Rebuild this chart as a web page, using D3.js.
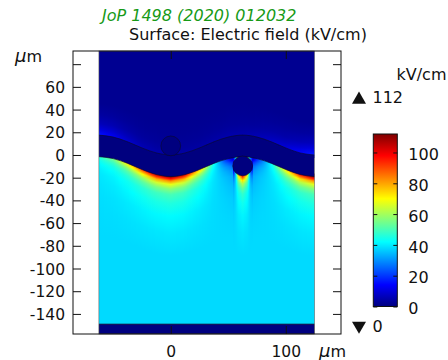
<!DOCTYPE html>
<html>
<head>
<meta charset="utf-8">
<script src="https://cdn.jsdelivr.net/npm/d3@7"></script>
<style>
  body { margin: 0; background: #fff; }
  text { font-family: "DejaVu Sans", sans-serif; fill: #111; }
</style>
</head>
<body>
<svg id="chart" width="448" height="360"></svg>
<script>
// colour range and ticks
const fieldMin = 0, fieldMax = 112;
const xTicks = [0, 100];
const yTicks = [-140, -120, -100, -80, -60, -40, -20, 0, 20, 40, 60, 80];
const cbTicks = [0, 20, 40, 60, 80, 100];
const jetColors = ["#00007f", "#0000ff", "#007fff", "#00ffff", "#7fff7f", "#ffff00", "#ff7f00", "#ff0000", "#7f0000"];

// geometry in um
const cellX = [-62.5, 125];
const baseY = -149;
const waveX = [-62.5, -50, -37.5, -25, -12.5, 0, 12.5, 25, 37.5, 50, 62.5, 75, 87.5, 100, 112.5, 125];
const bandTop = [17.5, 15.8, 11.6, 6.2, 1.8, 0, 1.8, 6.2, 11.6, 15.8, 17.5, 15.8, 11.6, 6.2, 1.8, 0];
const bandThick = 19;
const circleX = [0, 62.5];
const circleY = [8, -9.6];
const circleR = [8.7, 8.7];

// field values in kV/cm
const airField = 2, bulkField = 38, solidField = 0;
const lowEdgeX = [-62.5, -50, -40, -28, -17, -5, 0, 10, 16.5, 28, 36.5, 45, 51, 54, 56, 58.5, 62.5, 66.5, 69, 71.6, 77, 89, 100, 112, 125];
const lowEdgeE = [46, 55, 68, 86, 102, 110, 112, 106, 94, 70, 46, 26, 12, 6, 30, 72, 98, 72, 30, 7, 22, 46, 72, 96, 112];
const topEdgeX = [-62.5, -50, -37.5, -25, 0, 25, 50, 62.5, 75, 100, 112.5, 125];
const topEdgeE = [16, 13, 9, 6, 4, 4, 5, 5, 6, 10, 14, 17];
// how the excess field fades with distance from the boundary (um)
const lowDepth = [0, 2, 4, 7, 11, 16, 24, 35, 50, 70];
const lowFrac = [1, 0.8, 0.6, 0.4, 0.26, 0.16, 0.1, 0.05, 0.02, 0];
const topDepth = [0, 5, 10, 18, 28];
const topFrac = [1, 0.6, 0.32, 0.12, 0];

const svg = d3.select("#chart");

const x = d3.scaleLinear().domain([-85, 148]).range([73, 341]);
const y = d3.scaleLinear().domain([-157.7, 91.6]).range([334, 51]);
const color = d3.scaleLinear()
  .domain(jetColors.map((c, i) => fieldMin + i * (fieldMax - fieldMin) / (jetColors.length - 1)))
  .range(jetColors)
  .clamp(true);

const topAt = d3.scaleLinear().domain(waveX).range(bandTop);
const lowEdge = d3.scaleLinear().domain(lowEdgeX).range(lowEdgeE).clamp(true);
const topEdge = d3.scaleLinear().domain(topEdgeX).range(topEdgeE).clamp(true);
const pxPerUm = y(0) - y(1);

const defs = svg.append("defs");
defs.append("clipPath").attr("id", "fieldClip")
  .append("rect")
  .attr("x", x(cellX[0])).attr("y", y.range()[1])
  .attr("width", x(cellX[1]) - x(cellX[0]))
  .attr("height", y.range()[0] - y.range()[1]);

// one column per pixel
const px0 = Math.round(x(cellX[0])), px1 = Math.round(x(cellX[1]));
const cols = d3.range(px0, px1).map((px, i) => {
  const xm = x.invert(px + 0.5);
  const t = topAt(xm);
  const bot = t - bandThick;
  let low = bot;
  circleX.forEach((cx, k) => {
    const dx = xm - cx, r = circleR[k];
    if (Math.abs(dx) < r) low = Math.min(low, circleY[k] - Math.sqrt(r * r - dx * dx));
  });
  return { i, px, yTop: y(t), yBot: y(bot), yLow: y(low), eTop: topEdge(xm), eLow: lowEdge(xm) };
});

const lowMax = lowDepth[lowDepth.length - 1], topMax = topDepth[topDepth.length - 1];

defs.selectAll(".lg").data(cols).join("linearGradient")
  .attr("class", "lg")
  .attr("id", d => "lg" + d.i)
  .attr("gradientUnits", "userSpaceOnUse")
  .attr("x1", 0).attr("x2", 0)
  .attr("y1", d => d.yLow).attr("y2", d => d.yLow + lowMax * pxPerUm)
  .selectAll("stop")
  .data(d => lowDepth.map((dep, k) => ({ off: dep / lowMax, v: bulkField + (d.eLow - bulkField) * lowFrac[k] })))
  .join("stop")
  .attr("offset", s => s.off)
  .attr("stop-color", s => color(s.v));

defs.selectAll(".ug").data(cols).join("linearGradient")
  .attr("class", "ug")
  .attr("id", d => "ug" + d.i)
  .attr("gradientUnits", "userSpaceOnUse")
  .attr("x1", 0).attr("x2", 0)
  .attr("y1", d => d.yTop).attr("y2", d => d.yTop - topMax * pxPerUm)
  .selectAll("stop")
  .data(d => topDepth.map((dep, k) => ({ off: dep / topMax, v: airField + (d.eTop - airField) * topFrac[k] })))
  .join("stop")
  .attr("offset", s => s.off)
  .attr("stop-color", s => color(s.v));

const field = svg.append("g").attr("clip-path", "url(#fieldClip)");

// air above
field.selectAll(".ucol").data(cols).join("rect")
  .attr("x", d => d.px).attr("width", 1)
  .attr("y", y.range()[1])
  .attr("height", d => d.yTop + 3 - y.range()[1])
  .attr("fill", d => `url(#ug${d.i})`);

// region below the layer
field.selectAll(".lcol").data(cols).join("rect")
  .attr("x", d => d.px).attr("width", 1)
  .attr("y", d => d.yBot - 3)
  .attr("height", d => y(baseY) - d.yBot + 3)
  .attr("fill", d => `url(#lg${d.i})`);

// wavy layer
const wave = waveX.map((xv, i) => ({ x: xv, top: bandTop[i] }));
field.append("path")
  .datum(wave)
  .attr("fill", color(solidField))
  .attr("d", d3.area().x(d => x(d.x)).y0(d => y(d.top - bandThick)).y1(d => y(d.top)).curve(d3.curveMonotoneX));
[0, bandThick].forEach(off => {
  field.append("path")
    .datum(wave)
    .attr("fill", "none")
    .attr("stroke", "#0a0a30")
    .attr("stroke-opacity", 0.8)
    .attr("stroke-width", 0.8)
    .attr("d", d3.line().x(d => x(d.x)).y(d => y(d.top - off)).curve(d3.curveMonotoneX));
});

// particles
field.selectAll(".circ").data(circleX).join("circle")
  .attr("cx", d => x(d))
  .attr("cy", (d, i) => y(circleY[i]))
  .attr("r", (d, i) => circleR[i] * pxPerUm)
  .attr("fill", color(solidField))
  .attr("stroke", "#0a0a30")
  .attr("stroke-opacity", 0.8)
  .attr("stroke-width", 0.8);

// bottom electrode strip
field.append("rect")
  .attr("x", x(cellX[0])).attr("width", x(cellX[1]) - x(cellX[0]))
  .attr("y", y(baseY)).attr("height", y.range()[0] - y(baseY))
  .attr("fill", color(solidField))
  .attr("stroke", "#0a0a30").attr("stroke-width", 0.8);

svg.append("rect")
  .attr("x", x(cellX[0])).attr("width", x(cellX[1]) - x(cellX[0]))
  .attr("y", y.range()[1]).attr("height", y.range()[0] - y.range()[1])
  .attr("fill", "none").attr("stroke", "#666").attr("stroke-width", 0.6);

// axes
function styleAxis(g) {
  g.select(".domain").remove();
  g.attr("font-family", "DejaVu Sans").attr("font-size", 15.5);
  g.selectAll("line").attr("stroke", "#111");
  g.selectAll("text").attr("fill", "#111");
}
svg.append("g").attr("transform", `translate(${x.range()[0]},0)`)
  .call(d3.axisLeft(y).tickValues(yTicks).tickSize(-8).tickPadding(8).tickFormat(d => d === 80 ? "" : String(d)))
  .call(styleAxis)
  .selectAll("text").attr("dy", "0.36em");
svg.append("g").attr("transform", `translate(${x.range()[1]},0)`)
  .call(d3.axisRight(y).tickValues(yTicks).tickSize(-8).tickFormat(""))
  .call(styleAxis);
svg.append("g").attr("transform", `translate(0,${y.range()[0]})`)
  .call(d3.axisBottom(x).tickValues(xTicks).tickSize(-8).tickPadding(12).tickFormat(String))
  .call(styleAxis);
svg.append("g").attr("transform", `translate(0,${y.range()[1]})`)
  .call(d3.axisTop(x).tickValues(xTicks).tickSize(-8).tickFormat(""))
  .call(styleAxis);

svg.append("rect")
  .attr("x", x.range()[0]).attr("y", y.range()[1])
  .attr("width", x.range()[1] - x.range()[0]).attr("height", y.range()[0] - y.range()[1])
  .attr("fill", "none").attr("stroke", "#111").attr("stroke-width", 1);

// unit labels
const um1 = svg.append("text").attr("x", 15).attr("y", 62).attr("font-size", 16);
um1.append("tspan").attr("font-style", "italic").attr("font-size", 18).text("µ");
um1.append("tspan").text("m");
const um2 = svg.append("text").attr("x", 319).attr("y", 357).attr("font-size", 16);
um2.append("tspan").attr("font-style", "italic").attr("font-size", 18).text("µ");
um2.append("tspan").text("m");

// titles
svg.append("text")
  .attr("x", 102).attr("y", 21)
  .attr("font-family", "Open Sans").attr("font-style", "italic").attr("font-size", 16)
  .style("fill", "#179a17")
  .text("JoP 1498 (2020) 012032");
svg.append("text")
  .attr("x", 129).attr("y", 39.5).attr("font-size", 16)
  .text("Surface: Electric field (kV/cm)");

// colour bar
const cb = { x: 373.3, w: 24 };
const cbScale = d3.scaleLinear().domain([fieldMin, fieldMax]).range([306.5, 134]);
const cbGrad = defs.append("linearGradient").attr("id", "cbGrad")
  .attr("x1", 0).attr("y1", 1).attr("x2", 0).attr("y2", 0);
cbGrad.selectAll("stop").data(color.domain()).join("stop")
  .attr("offset", d => (d - fieldMin) / (fieldMax - fieldMin))
  .attr("stop-color", d => color(d));
svg.append("rect")
  .attr("x", cb.x).attr("width", cb.w)
  .attr("y", cbScale(fieldMax)).attr("height", cbScale(fieldMin) - cbScale(fieldMax))
  .attr("fill", "url(#cbGrad)")
  .attr("stroke", "#111").attr("stroke-width", 1);
svg.append("g").attr("transform", `translate(${cb.x + cb.w},0)`)
  .call(d3.axisRight(cbScale).tickValues(cbTicks).tickSize(-4).tickPadding(11).tickFormat(String))
  .call(styleAxis)
  .call(g => g.attr("font-size", 16))
  .selectAll("text").attr("dy", "0.45em");
svg.append("g").attr("transform", `translate(${cb.x},0)`)
  .call(d3.axisLeft(cbScale).tickValues(cbTicks).tickSize(-4).tickFormat(""))
  .call(styleAxis);

svg.append("text").attr("x", 396.5).attr("y", 79.5).attr("font-size", 16).text("kV/cm");
const tri = d3.symbol().type(d3.symbolTriangle).size(85);
svg.append("path").attr("d", tri()).attr("transform", "translate(359,99.7)").attr("fill", "#111");
svg.append("path").attr("d", tri()).attr("transform", "translate(359,325.7) rotate(180)").attr("fill", "#111");
svg.append("text").attr("x", 372.5).attr("y", 103.3).attr("font-size", 16).text(String(fieldMax));
svg.append("text").attr("x", 372.5).attr("y", 332).attr("font-size", 16).text(String(fieldMin));
</script>
</body>
</html>
